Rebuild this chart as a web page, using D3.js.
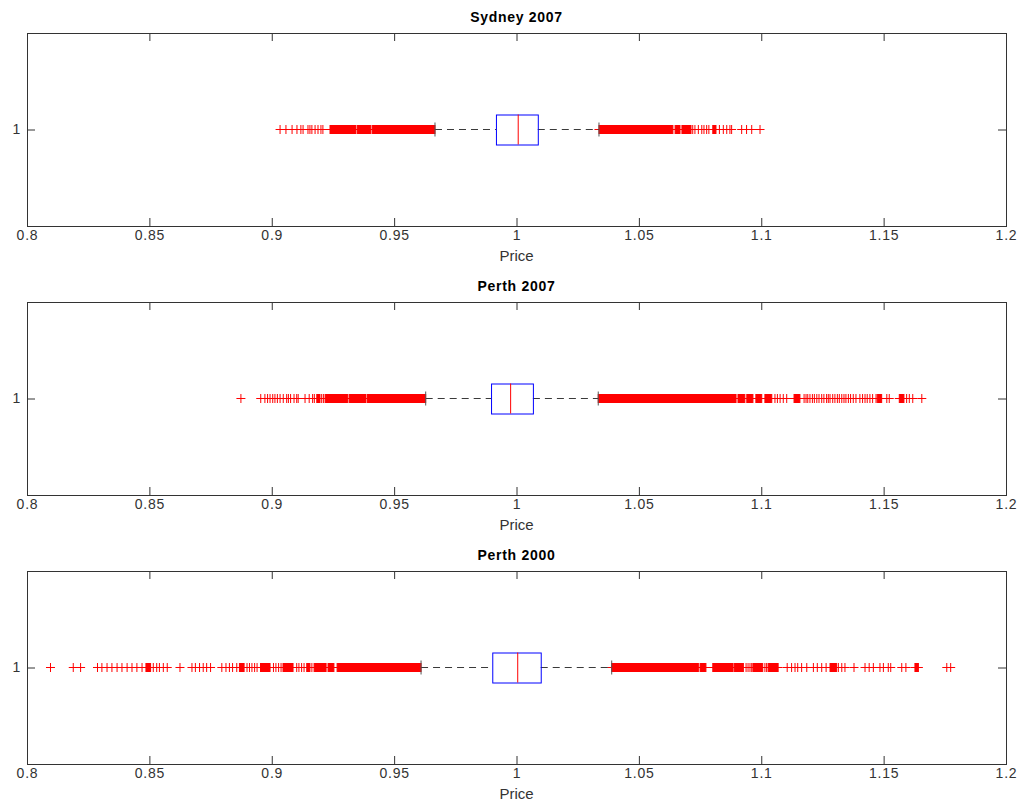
<!DOCTYPE html>
<html>
<head>
<meta charset="utf-8">
<script src="https://cdn.jsdelivr.net/npm/d3@7"></script>
<style>
  html, body { margin: 0; padding: 0; background: #fff; }
  svg { display: block; font-family: "Liberation Sans", Arial, sans-serif; }
</style>
</head>
<body>
<svg id="chart" width="1024" height="802"></svg>
<script>
// Box statistics per panel (price relative to reference level)
const panelTitles   = ["Sydney 2007", "Perth 2007", "Perth 2000"];
const lowerWhisker  = [0.9667, 0.9629, 0.9610];
const lowerQuartile = [0.9916, 0.9896, 0.9901];
const medians       = [1.0007, 0.9976, 1.0005];
const upperQuartile = [1.0087, 1.0067, 1.0099];
const upperWhisker  = [1.0337, 1.0334, 1.0389];

const xTicks = [0.8, 0.85, 0.9, 0.95, 1, 1.05, 1.1, 1.15, 1.2];
const yTicks = [1];

// Individually visible outliers
const sydney2007Outliers = [
  0.9034, 0.9058, 0.9083, 0.9103, 0.9119, 0.9128, 0.9148, 0.9156, 0.9164,
  0.9177, 0.9189, 0.9201, 0.9209,
  1.0720, 1.0729, 1.0743, 1.0757, 1.0766, 1.0777, 1.0786,
  1.0829, 1.0845, 1.0859, 1.0872, 1.0879, 1.0920, 1.0940, 1.0961, 1.0995
];
// Stretches where the outlier markers overlap into a solid run [from, to]
const sydney2007Runs = [
  [0.9238, 0.9344], [0.9350, 0.9404], [0.9410, 0.9667],
  [1.0337, 1.0639], [1.0648, 1.0668], [1.0676, 1.0713], [1.0802, 1.0815]
];

const perth2007Outliers = [
  0.8874,
  0.8955, 0.8972, 0.8983, 0.8993, 0.9004, 0.9013, 0.9023, 0.9034, 0.9047,
  0.9061, 0.9068, 0.9077, 0.9091, 0.9102, 0.9108, 0.9136, 0.9153, 0.9167,
  0.9174, 0.9204, 0.9211,
  1.1056, 1.1066, 1.1077, 1.1090, 1.1104,
  1.1175, 1.1183, 1.1190, 1.1199, 1.1209, 1.1217, 1.1227, 1.1236, 1.1247,
  1.1256, 1.1267, 1.1274, 1.1281, 1.1292, 1.1301, 1.1311, 1.1319, 1.1329,
  1.1338, 1.1346, 1.1356, 1.1365, 1.1376, 1.1387, 1.1403, 1.1414, 1.1424,
  1.1433, 1.1444, 1.1455, 1.1469,
  1.1513, 1.1523, 1.1594, 1.1605, 1.1619, 1.1656
];
const perth2007Runs = [
  [0.9184, 0.9197], [0.9218, 0.9310], [0.9316, 0.9385], [0.9391, 0.9629],
  [1.0334, 1.0897], [1.0905, 1.0933], [1.0941, 1.0966], [1.0978, 1.1002],
  [1.1015, 1.1043], [1.1134, 1.1158], [1.1474, 1.1492], [1.1564, 1.1583]
];

const perth2000Outliers = [
  0.8096, 0.8189, 0.8219, 0.8288, 0.8306, 0.8327, 0.8347, 0.8368, 0.8388,
  0.8409, 0.8429, 0.8449, 0.8470, 0.8516, 0.8530, 0.8541, 0.8557, 0.8573,
  0.8625, 0.8674, 0.8688, 0.8705, 0.8720, 0.8734, 0.8750, 0.8796, 0.8813,
  0.8827, 0.8840, 0.8857, 0.8899, 0.8909, 0.8919, 0.8930, 0.8940,
  0.9007, 0.9017, 0.9028, 0.9038, 0.9102, 0.9111, 0.9122, 0.9132, 0.9164,
  1.0938, 1.0946, 1.0954, 1.0961, 1.1015, 1.1022,
  1.1106, 1.1124, 1.1138, 1.1149, 1.1165, 1.1186, 1.1213, 1.1229, 1.1247,
  1.1265, 1.1315, 1.1329, 1.1342, 1.1379, 1.1424, 1.1441, 1.1458, 1.1485,
  1.1499, 1.1519, 1.1529, 1.1574, 1.1591, 1.1758, 1.1774
];
const perth2000Runs = [
  [0.8486, 0.8505], [0.8868, 0.8887], [0.8954, 0.8993], [0.9046, 0.9087],
  [0.9143, 0.9156], [0.9173, 0.9222], [0.9230, 0.9254], [0.9267, 0.9610],
  [1.0389, 1.0743], [1.0750, 1.0774], [1.0802, 1.0885], [1.0891, 1.0927],
  [1.0966, 1.1006], [1.1028, 1.1069], [1.1281, 1.1308], [1.1628, 1.1642]
];

const outlierSets = [sydney2007Outliers, perth2007Outliers, perth2000Outliers];
const runSets     = [sydney2007Runs, perth2007Runs, perth2000Runs];

// Layout
const svg = d3.select("#chart");
const left = 27, right = 1006;
const panelTops = [33, 302, 571];
const panelH = 193;
const tickLen = 8;
const mark = 4.5;          // half-size of the "+" marker
const boxHalf = 15;        // half-height of the box
const capHalf = 7;         // half-height of the whisker caps
const axisInk = "#333";

const x = d3.scaleLinear().domain([0.8, 1.2]).range([left, right]);
const y = d3.scalePoint().domain(yTicks).range([0, panelH]).padding(0.5);

const fmt = d => String(+d.toFixed(2));
const plusPath = `M${-mark},0H${mark}M0,${-mark}V${mark}`;

panelTitles.forEach((title, i) => {
  const g = svg.append("g").attr("transform", `translate(0,${panelTops[i]})`);
  const cy = y(1);

  // Outlier runs (overlapping markers) and single markers
  g.append("g").selectAll("rect").data(runSets[i]).join("rect")
    .attr("x", d => x(d[0]))
    .attr("width", d => Math.max(1, x(d[1]) - x(d[0])))
    .attr("y", cy - mark).attr("height", 2 * mark)
    .attr("fill", "#ff0000");
  const ends = runSets[i].flat().concat(outlierSets[i]);
  g.append("g").selectAll("path").data(ends).join("path")
    .attr("transform", d => `translate(${x(d)},${cy})`)
    .attr("d", plusPath)
    .attr("fill", "none").attr("stroke", "#ff0000").attr("stroke-width", 1);

  // Whiskers
  const wh = g.append("g").attr("stroke", "#3a3a3a").attr("stroke-width", 1);
  wh.append("line")
    .attr("x1", x(lowerWhisker[i])).attr("x2", x(lowerQuartile[i]))
    .attr("y1", cy).attr("y2", cy).attr("stroke-dasharray", "7,5");
  wh.append("line")
    .attr("x1", x(upperQuartile[i])).attr("x2", x(upperWhisker[i]))
    .attr("y1", cy).attr("y2", cy).attr("stroke-dasharray", "7,5");
  [lowerWhisker[i], upperWhisker[i]].forEach(v => {
    wh.append("line").attr("stroke", "#555")
      .attr("x1", x(v)).attr("x2", x(v))
      .attr("y1", cy - capHalf).attr("y2", cy + capHalf);
  });

  // Box and median
  g.append("rect")
    .attr("x", x(lowerQuartile[i]) + 0.5)
    .attr("y", cy - boxHalf + 0.5)
    .attr("width", x(upperQuartile[i]) - x(lowerQuartile[i]))
    .attr("height", 2 * boxHalf)
    .attr("fill", "none").attr("stroke", "#0000ff").attr("stroke-width", 1);
  g.append("line")
    .attr("x1", x(medians[i])).attr("x2", x(medians[i]))
    .attr("y1", cy - boxHalf).attr("y2", cy + boxHalf)
    .attr("stroke", "#ff0000").attr("stroke-width", 1);

  // Axes (ticks pointing inward)
  const bottom = g.append("g").attr("transform", `translate(0,${panelH})`)
    .call(d3.axisBottom(x).tickValues(xTicks).tickFormat(fmt)
      .tickSizeInner(-tickLen).tickSizeOuter(0).tickPadding(4));
  const top = g.append("g")
    .call(d3.axisTop(x).tickValues(xTicks).tickFormat("")
      .tickSizeInner(-tickLen).tickSizeOuter(0));
  const yl = g.append("g").attr("transform", `translate(${left},0)`)
    .call(d3.axisLeft(y).tickSizeInner(-tickLen).tickSizeOuter(0).tickPadding(6));
  const yr = g.append("g").attr("transform", `translate(${right},0)`)
    .call(d3.axisRight(y).tickFormat("").tickSizeInner(-tickLen).tickSizeOuter(0));
  [bottom, top, yl, yr].forEach(a => {
    a.select(".domain").remove();
    a.selectAll("line").attr("stroke", axisInk);
    a.selectAll("text").attr("fill", axisInk)
      .style("font-size", "14px").style("letter-spacing", "0.8px")
      .style("font-family", "'Liberation Sans', Arial, sans-serif");
  });
  bottom.selectAll("text").attr("dy", "0.71em");

  // Frame
  g.append("rect")
    .attr("x", left + 0.5).attr("y", 0.5)
    .attr("width", right - left).attr("height", panelH)
    .attr("fill", "none").attr("stroke", axisInk).attr("stroke-width", 1);

  // Title and axis label
  g.append("text")
    .attr("x", (left + right) / 2).attr("y", -11)
    .attr("text-anchor", "middle")
    .style("font-size", "14px").style("font-weight", "bold")
    .style("letter-spacing", "0.7px").attr("fill", "#000")
    .text(title);
  g.append("text")
    .attr("x", (left + right) / 2).attr("y", panelH + 35)
    .attr("text-anchor", "middle")
    .style("font-size", "15px").attr("fill", axisInk)
    .text("Price");
});
</script>
</body>
</html>
